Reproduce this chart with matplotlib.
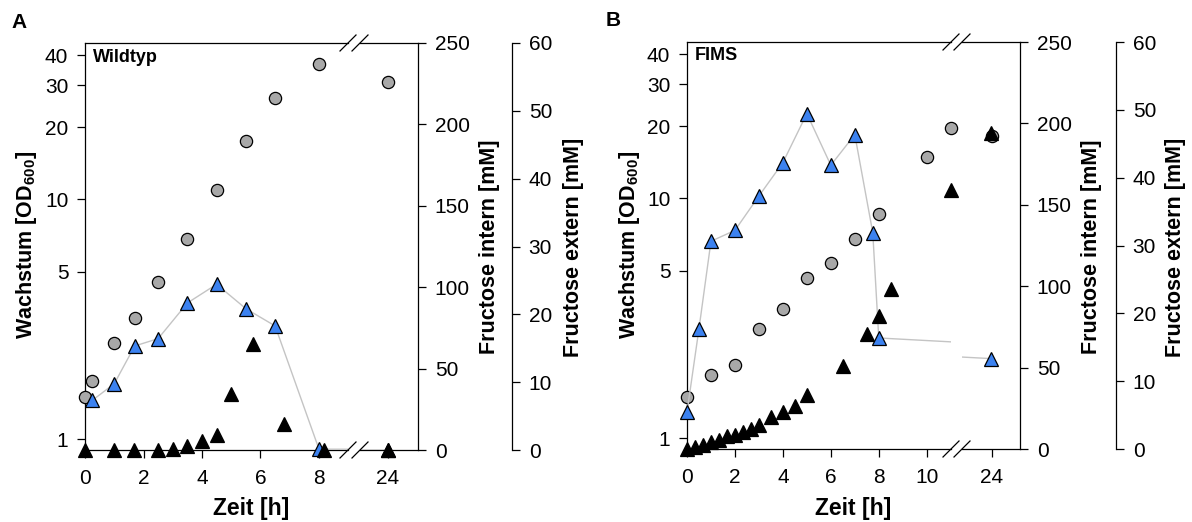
import numpy as np
import matplotlib
matplotlib.use('Agg')
import matplotlib.pyplot as plt
from matplotlib.lines import Line2D
from matplotlib.ticker import FixedLocator, NullLocator, FuncFormatter

plt.rcParams['font.family'] = ['Liberation Sans', 'DejaVu Sans']
plt.rcParams['mathtext.fontset'] = 'custom'
plt.rcParams['mathtext.rm'] = 'Liberation Sans'
plt.rcParams['mathtext.bf'] = 'Liberation Sans:bold'

W, H = 1192, 522

# Panel A - Wildtyp
wt_od_time = [0, 0.25, 1, 1.7, 2.5, 3.5, 4.5, 5.5, 6.5, 8, 24]
wt_od = [1.50, 1.74, 2.51, 3.21, 4.53, 6.84, 11.0, 17.6, 26.4, 36.6, 30.9]
wt_int_time = [0.25, 1, 1.7, 2.5, 3.5, 4.5, 5.5, 6.5, 8, 24]
wt_int = [30.5, 40.7, 63.9, 68.4, 90.3, 101.8, 86.8, 76.2, 0.5, 0]
wt_ext_time = [0, 1, 1.67, 2.5, 3, 3.5, 4, 4.5, 5, 5.75, 6.8, 8.17, 24]
wt_ext = [0, 0, 0, 0, 0.2, 0.6, 1.3, 2.2, 8.3, 15.7, 3.9, 0, 0]

# Panel B - FIMS
fims_od_time = [0, 1, 2, 3, 4, 5, 6, 7, 8, 10, 11, 24]
fims_od = [1.49, 1.83, 2.01, 2.86, 3.47, 4.66, 5.40, 6.76, 8.58, 14.9, 19.6, 18.2]
fims_int_time = [0, 0.5, 1, 2, 3, 4, 5, 6, 7, 7.75, 8, 24]
fims_int = [22.7, 73.9, 127.6, 134.3, 155.4, 175.9, 206, 174.3, 193.1, 132.9, 68.2, 55.5]
fims_ext_time = [0, 0.33, 0.67, 1, 1.33, 1.67, 2, 2.33, 2.67, 3, 3.5, 4, 4.5, 5,
                 6.5, 7.5, 8, 8.5, 11, 24]
fims_ext = [0, 0.3, 0.6, 1.0, 1.4, 1.9, 2.1, 2.5, 2.9, 3.5, 4.7, 5.5, 6.4, 7.9,
            12.3, 17.0, 19.6, 23.6, 38.2, 46.6]

od_ticks = [1, 5, 10, 20, 30, 40]
int_ticks = [0, 50, 100, 150, 200, 250]
ext_ticks = [0, 10, 20, 30, 40, 50, 60]

GREY = '#a8a8a8'
BLUE = '#3c82f0'
LINE = '#c4c4c4'
LW = 0.9
FS = 15


def px_rect(x0, x1, y0, y1):
    return [x0 / W, 1 - y1 / H, (x1 - x0) / W, (y1 - y0) / H]


def plot_series(ax, t, v, lo, hi, line=False, **kw):
    t = np.asarray(t, dtype=float)
    v = np.asarray(v, dtype=float)
    if line:
        ax.plot(t, v, color=LINE, lw=1.0, zorder=1)
    m = (t >= lo - 1e-6) & (t <= hi + 1e-6)
    ax.plot(t[m], v[m], ls='none', clip_on=False, zorder=3, **kw)


def slash(fig, x, y):
    dx, dy = 8 / W, 8 / H
    fig.add_artist(Line2D([x - dx, x + dx], [y - dy, y + dy], color='black',
                          lw=LW, transform=fig.transFigure, clip_on=False))


def draw_panel(fig, rect_l, rect_r, xlim_l, xlim_r, xticks_l, ext_offset,
               od_t, od, in_t, in_v, ex_t, ex_v):
    ax_l = fig.add_axes(rect_l)
    ax_r = fig.add_axes(rect_r)
    segs = [(ax_l, xlim_l, xticks_l), (ax_r, xlim_r, [24])]
    for i, (ax, xl, xt) in enumerate(segs):
        ax.set_yscale('log')
        ax.set_ylim(0.9, 45)
        ax.set_xlim(*xl)
        ax.set_xticks(xt)
        ax.set_xticklabels([str(v) for v in xt])
        ax.yaxis.set_major_locator(FixedLocator(od_ticks))
        ax.yaxis.set_major_formatter(FuncFormatter(lambda v, p: '%g' % v))
        ax.yaxis.set_minor_locator(NullLocator())
        ax.xaxis.set_minor_locator(NullLocator())
        for s in ax.spines.values():
            s.set_linewidth(LW)
        ax.spines['right'].set_visible(False)

        a_in = ax.twinx()
        a_ex = ax.twinx()
        # twinx switches the parent's ticks back on, so style them afterwards
        ax.tick_params(axis='both', direction='out', length=5.5, width=LW,
                       labelsize=FS, pad=6.5)
        ax.tick_params(axis='x', pad=8, top=False)
        ax.tick_params(axis='y', right=False, labelright=False)
        if i == 1:
            ax.spines['left'].set_visible(False)
            ax.tick_params(axis='y', left=False, labelleft=False)

        a_in.set_ylim(0, 250)
        a_ex.set_ylim(0, 60)
        for a in (a_in, a_ex):
            for s in a.spines.values():
                s.set_visible(False)
                s.set_linewidth(LW)
            a.yaxis.set_minor_locator(NullLocator())
        if i == 0:
            a_in.set_yticks([])
            a_ex.set_yticks([])
        else:
            a_in.spines['right'].set_visible(True)
            a_in.set_yticks(int_ticks)
            a_ex.spines['right'].set_visible(True)
            a_ex.spines['right'].set_position(('outward', ext_offset))
            a_ex.set_yticks(ext_ticks)
            for a in (a_in, a_ex):
                a.tick_params(axis='y', direction='out', length=5.5, width=LW,
                              labelsize=FS, pad=6.5)

        plot_series(ax, od_t, od, xl[0], xl[1], marker='o', ms=8.8,
                    mfc=GREY, mec='black', mew=0.9)
        plot_series(a_in, in_t, in_v, xl[0], xl[1], line=True, marker='^',
                    ms=10, mfc=BLUE, mec='black', mew=0.9)
        plot_series(a_ex, ex_t, ex_v, xl[0], xl[1], marker='^', ms=10,
                    mfc='black', mec='black', mew=0.9)

    pl = ax_l.get_position()
    pr = ax_r.get_position()
    for y in (pl.y0, pl.y1):
        slash(fig, pl.x1, y)
        slash(fig, pr.x0, y)
    return ax_l, ax_r


fig = plt.figure(figsize=(W / 100, H / 100), dpi=100)

# Panel A
draw_panel(fig, px_rect(85, 348, 43, 450), px_rect(360, 418, 43, 450),
           (0, 263 / 29.25), (24 - 27.7 / 29.25, 24 + 30.3 / 29.25),
           [0, 2, 4, 6, 8], 94 * 0.72,
           wt_od_time, wt_od, wt_int_time, wt_int, wt_ext_time, wt_ext)

# Panel B
draw_panel(fig, px_rect(687, 951, 42, 449), px_rect(962, 1020, 42, 449),
           (0, 264 / 23.97), (24 - 29.5 / 23.97, 24 + 28.5 / 23.97),
           [0, 2, 4, 6, 8, 10], 96 * 0.72,
           fims_od_time, fims_od, fims_int_time, fims_int, fims_ext_time, fims_ext)

bold = dict(fontsize=15.5, fontweight='bold', ha='center', va='center')
for x_od, x_in, x_ex, x_mid in ((27, 490, 573, 251.5), (630, 1092, 1175, 853.5)):
    fig.text(x_od / W, 1 - 245 / H, 'Wachstum [OD$_{\\mathbf{600}}$]', rotation=90, **bold)
    fig.text(x_in / W, 1 - 247 / H, 'Fructose intern [mM]', rotation=90, **bold)
    fig.text(x_ex / W, 1 - 247 / H, 'Fructose extern [mM]', rotation=90, **bold)
    fig.text(x_mid / W, 1 - 509 / H, 'Zeit [h]', **dict(bold, fontsize=16.5))

fig.text(93 / W, 1 - 58 / H, 'Wildtyp', fontsize=13, fontweight='bold', ha='left', va='center')
fig.text(695 / W, 1 - 56 / H, 'FIMS', fontsize=13, fontweight='bold', ha='left', va='center')
fig.text(19 / W, 1 - 22 / H, 'A', fontsize=15, fontweight='bold', ha='center', va='center')
fig.text(613 / W, 1 - 20 / H, 'B', fontsize=15, fontweight='bold', ha='center', va='center')

fig.savefig('out.png', dpi=100)
